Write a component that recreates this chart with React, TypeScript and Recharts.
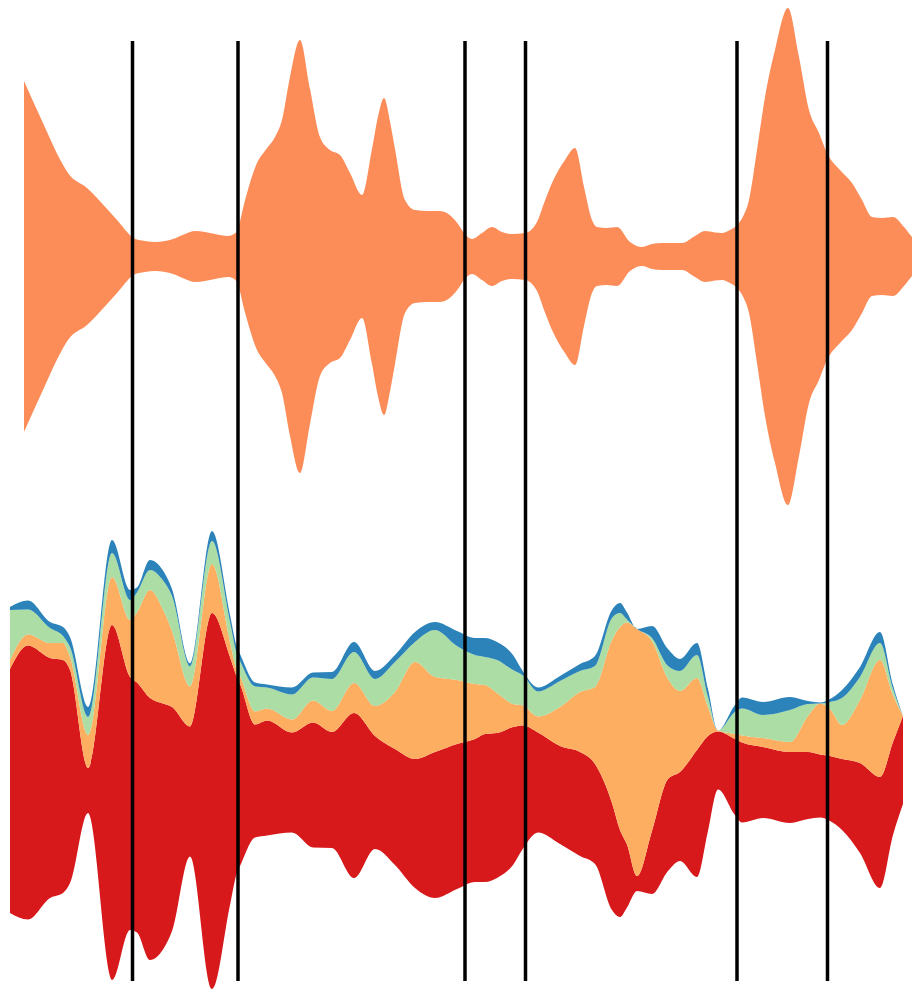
import React from 'react';
import { AreaChart, Area, LineChart, Line, XAxis, YAxis, ReferenceLine } from 'recharts';

// upper stream: one series, day offsets and flow thickness
const topDay = [
  0, 19, 38, 44, 63, 84, 93, 104, 109, 121, 131, 141, 149, 161, 171, 181, 191, 204, 210, 213,
  221, 233, 242, 251, 258, 266, 276, 286, 296, 306, 316, 326, 338, 348, 354, 360, 366, 371, 381,
  391, 404, 416, 428, 434, 440, 448, 458, 468, 478, 488, 501, 513, 521, 528, 541, 551, 560, 568,
  573, 583, 593, 606, 618, 628, 638, 658, 671, 681, 691, 698, 706, 713, 719, 725, 733, 741, 751,
  764, 775, 785, 795, 803, 816, 828, 838, 848, 858, 869, 880, 888, 893,
];
const topFlow = [
  351, 267, 187, 167, 137, 93, 73, 47, 37, 31, 29, 31, 35, 45, 51, 49, 45, 41, 45, 51,
  112, 187, 214, 239, 273, 359, 433, 335, 239, 213, 203, 167, 123, 215, 280, 317, 270, 215, 113,
  93, 91, 91, 79, 65, 47, 35, 47, 59, 49, 45, 47, 69, 112, 147, 193, 217, 139, 73,
  59, 57, 59, 29, 19, 25, 27, 27, 41, 51, 48, 47, 53, 63, 80, 113, 213, 319, 413,
  497, 399, 293, 247, 207, 173, 147, 113, 79, 77, 79, 59, 39, 27,
];

// lower stream: four series sharing one set of days
const bottomDay = [
  0, 18, 40, 53, 60, 78, 102, 120, 127, 140, 153, 162, 180, 202, 220, 227, 230, 245, 257, 282,
  303, 322, 344, 365, 385, 405, 425, 447, 465, 475, 487, 503, 513, 528, 550, 570, 585, 602, 610,
  617, 627, 642, 658, 670, 687, 698, 708, 725, 732, 753, 780, 798, 810, 820, 832, 850, 870, 883, 893,
];
const red = [
  244, 274, 240, 233, 213, 45, 355, 253, 250, 262, 246, 224, 130, 376, 248, 195, 182, 113, 115, 100,
  125, 116, 165, 113, 116, 129, 146, 145, 143, 148, 145, 138, 123, 100, 98, 104, 100, 107, 87,
  63, 15, 63, 92, 89, 127, 95, 58, 76, 80, 71, 71, 67, 63, 65, 71, 90, 111, 93, 88,
];
const orange = [
  9, 11, 15, 17, 13, 33, 48, 57, 70, 108, 94, 76, 40, 49, 15, 7, 8, 13, 12, 13,
  22, 21, 30, 30, 57, 97, 75, 64, 55, 49, 40, 23, 20, 16, 39, 60, 77, 163, 203,
  222, 247, 190, 100, 81, 72, 29, 1, 5, 7, 9, 10, 36, 51, 47, 34, 63, 117, 47, 0,
];
const green = [
  50, 25, 15, 7, 10, 18, 24, 20, 20, 20, 29, 35, 20, 23, 20, 16, 15, 25, 21, 25,
  23, 32, 31, 27, 30, 20, 47, 34, 29, 28, 33, 34, 30, 25, 26, 21, 21, 22, 14,
  3, 0, 3, 13, 20, 23, 10, 0, 22, 27, 23, 32, 12, 0, 7, 27, 23, 17, 6, 0,
];
const blue = [
  3, 9, 6, 9, 10, 10, 13, 10, 5, 10, 10, 7, 3, 10, 7, 7, 7, 4, 3, 7,
  5, 7, 10, 8, 7, 10, 8, 15, 17, 19, 18, 15, 4, 4, 5, 7, 10, 8, 10,
  7, 0, 12, 17, 12, 12, 8, 0, 7, 11, 13, 13, 3, 1, 3, 8, 10, 11, 4, 0,
];

// event markers, in lower-stream days
const markerDay = [122.5, 228, 455, 515.5, 727, 817.5];

const topData = topDay.map((day, i) => ({ day, flow: topFlow[i] }));
const bottomData = bottomDay.map((day, i) => ({
  day,
  red: red[i],
  orange: orange[i],
  green: green[i],
  blue: blue[i],
}));
const markerData = markerDay.map((day) => ({ day, y: 0.5 }));

const noMargin = { top: 0, right: 0, bottom: 0, left: 0 };

export default function App() {
  return (
    <div style={{ position: 'absolute', left: 0, top: 0, width: 912, height: 990, overflow: 'hidden', background: '#fff' }}>
      <div style={{ position: 'absolute', left: 0, top: 0, width: 912, height: 513, overflow: 'hidden' }}>
        <AreaChart width={926} height={513} data={topData} stackOffset="silhouette" margin={{ ...noMargin, left: 24, right: 9 }}>
          <XAxis dataKey="day" type="number" domain={[0, 893]} hide />
          <YAxis type="number" domain={[-256.5, 256.5]} allowDataOverflow hide />
          <Area
            dataKey="flow"
            stackId="a"
            type="monotone"
            stroke="none"
            fill="#fc8d59"
            fillOpacity={1}
            dot={false}
            activeDot={false}
            isAnimationActive={false}
          />
        </AreaChart>
      </div>

      <div style={{ position: 'absolute', left: 0, top: 520, width: 912, height: 480 }}>
        <AreaChart width={912} height={480} data={bottomData} stackOffset="silhouette" margin={{ ...noMargin, left: 10, right: 9 }}>
          <XAxis dataKey="day" type="number" domain={[0, 893]} hide />
          <YAxis type="number" domain={[-240, 240]} allowDataOverflow hide />
          <Area dataKey="red" stackId="b" type="monotone" stroke="none" fill="#d7191c" fillOpacity={1} dot={false} activeDot={false} isAnimationActive={false} />
          <Area dataKey="orange" stackId="b" type="monotone" stroke="none" fill="#fdae61" fillOpacity={1} dot={false} activeDot={false} isAnimationActive={false} />
          <Area dataKey="green" stackId="b" type="monotone" stroke="none" fill="#abdda4" fillOpacity={1} dot={false} activeDot={false} isAnimationActive={false} />
          <Area dataKey="blue" stackId="b" type="monotone" stroke="none" fill="#2b83ba" fillOpacity={1} dot={false} activeDot={false} isAnimationActive={false} />
        </AreaChart>
      </div>

      <div style={{ position: 'absolute', left: 0, top: 0, width: 912, height: 990, pointerEvents: 'none' }}>
        <LineChart width={912} height={990} data={markerData} margin={{ top: 41, right: 9, bottom: 9, left: 10 }}>
          <XAxis dataKey="day" type="number" domain={[0, 893]} hide />
          <YAxis type="number" domain={[0, 1]} hide />
          <Line dataKey="y" stroke="none" dot={false} activeDot={false} isAnimationActive={false} />
          {markerDay.map((d) => (
            <ReferenceLine key={d} x={d} stroke="#000" strokeWidth={3.5} ifOverflow="visible" />
          ))}
        </LineChart>
      </div>
    </div>
  );
}
